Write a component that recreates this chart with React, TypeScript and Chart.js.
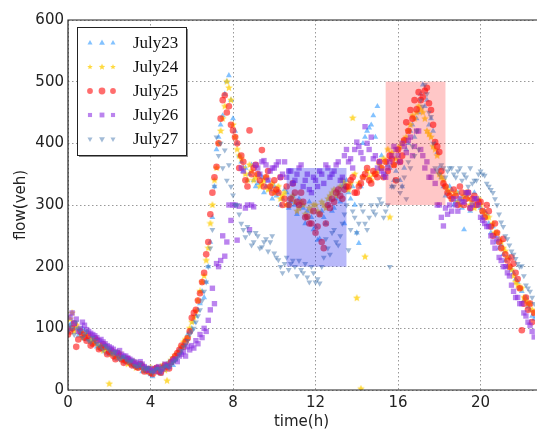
import { useEffect, useRef } from "react";
import { Chart, registerables } from "chart.js";
Chart.register(...registerables);

// ---------- data ----------
// readings on the even 12-minute marks
const hours = [
  0, 0.2, 0.4, 0.6, 0.8, 1, 1.2, 1.4, 1.6, 1.8,
  2, 2.2, 2.4, 2.6, 2.8, 3, 3.2, 3.4, 3.6, 3.8,
  4, 4.2, 4.4, 4.6, 4.8, 5, 5.2, 5.4, 5.6, 5.8,
  6, 6.2, 6.4, 6.6, 6.8, 7, 7.2, 7.4, 7.6, 7.8,
  8, 8.2, 8.4, 8.6, 8.8, 9, 9.2, 9.4, 9.6, 9.8,
  10, 10.2, 10.4, 10.6, 10.8, 11, 11.2, 11.4, 11.6, 11.8,
  12, 12.2, 12.4, 12.6, 12.8, 13, 13.2, 13.4, 13.6, 13.8,
  14, 14.2, 14.4, 14.6, 14.8, 15, 15.2, 15.4, 15.6, 15.8,
  16, 16.2, 16.4, 16.6, 16.8, 17, 17.2, 17.4, 17.6, 17.8,
  18, 18.2, 18.4, 18.6, 18.8, 19, 19.2, 19.4, 19.6, 19.8,
  20, 20.2, 20.4, 20.6, 20.8, 21, 21.2, 21.4, 21.6, 21.8,
  22, 22.2, 22.4, 22.6,
];
// readings in between
const hoursB = [
  0.1, 0.3, 0.5, 0.7, 0.9, 1.1, 1.3, 1.5, 1.7, 1.9,
  2.1, 2.3, 2.5, 2.7, 2.9, 3.1, 3.3, 3.5, 3.7, 3.9,
  4.1, 4.3, 4.5, 4.7, 4.9, 5.1, 5.3, 5.5, 5.7, 5.9,
  6.1, 6.3, 6.5, 6.7, 6.9, 7.1, 7.3, 7.5, 7.7, 7.9,
  8.1, 8.3, 8.5, 8.7, 8.9, 9.1, 9.3, 9.5, 9.7, 9.9,
  10.1, 10.3, 10.5, 10.7, 10.9, 11.1, 11.3, 11.5, 11.7, 11.9,
  12.1, 12.3, 12.5, 12.7, 12.9, 13.1, 13.3, 13.5, 13.7, 13.9,
  14.1, 14.3, 14.5, 14.7, 14.9, 15.1, 15.3, 15.5, 15.7, 15.9,
  16.1, 16.3, 16.5, 16.7, 16.9, 17.1, 17.3, 17.5, 17.7, 17.9,
  18.1, 18.3, 18.5, 18.7, 18.9, 19.1, 19.3, 19.5, 19.7, 19.9,
  20.1, 20.3, 20.5, 20.7, 20.9, 21.1, 21.3, 21.5, 21.7, 21.9,
  22.1, 22.3, 22.5,
];

const july23 = [
  95, 110, 100, 92, 95, 84, 80, 70, 76, 62,
  58, 60, 50, 54, 44, 48, 38, 42, 30, 36,
  25, 30, 28, 38, 42, 44, 50, 66, 72, 90,
  100, 120, 140, 150, 200, 280, 390, 430, 480, 510,
  440, 400, 370, 360, 350, 340, 335, 345, 330, 325,
  330, 320, 310, 320, 305, 300, 310, 295, 290, 280,
  265, 245, 280, 300, 290, 310, 305, 270, 320, 330,
  255, 330, 410, 425, 445, 460, 380, 350, 360, 340,
  370, 330, 390, 420, 410, 450, 495, 470, 440, 400,
  360, 330, 320, 325, 305, 310, 260, 320, 300, 310,
  295, 290, 270, 265, 240, 235, 210, 215, 190, 175,
  160, 150, 130, 115,
];
const july23b = [
  105, 98, 88, 100, 82, 86, 75, 68, 72, 60,
  64, 52, 56, 46, 50, 40, 44, 35, 38, 28,
  22, 34, 26, 32, 46, 40, 58, 60, 80, 95,
  110, 130, 160, 175, 240, 330, 410, 445, 500, 470,
  420, 380, 355, 340, 365, 330, 350, 320, 340, 310,
  315, 300, 325, 295, 315, 285, 300, 270, 305, 260,
  243, 290, 270, 310, 295, 320, 330, 340, 310, 300,
  238, 400, 420, 430, 410, 370, 345, 365, 330, 355,
  340, 360, 400, 430, 440, 480, 460, 430, 420, 385,
  345, 315, 330, 300, 320, 295, 315, 290, 320, 300,
  280, 285, 255, 250, 230, 220, 200, 195, 180, 165,
  145, 135, 120,
];

const july24 = [
  100, 125, 105, 95, 88, 90, 78, 82, 72, 66,
  10, 62, 58, 50, 52, 44, 46, 38, 40, 34,
  36, 30, 35, 40, 15, 48, 56, 60, 78, 85,
  110, 128, 160, 185, 230, 300, 360, 420, 460, 490,
  430, 390, 375, 350, 365, 340, 350, 335, 345, 330,
  320, 330, 315, 300, 310, 305, 295, 300, 280, 290,
  300, 285, 300, 310, 320, 315, 330, 335, 325, 441,
  149, 2, 216, 345, 350, 355, 360, 370, 280, 365,
  390, 400, 410, 430, 440, 460, 450, 420, 410, 390,
  350, 340, 325, 310, 320, 300, 315, 310, 305, 300,
  300, 285, 280, 270, 255, 240, 225, 200, 185, 170,
  165, 145, 140, 125,
];
const july24b = [
  115, 95, 100, 85, 92, 80, 76, 70, 64, 68,
  58, 54, 60, 48, 42, 46, 36, 40, 32, 30,
  28, 36, 38, 32, 44, 52, 58, 70, 82, 100,
  118, 145, 175, 210, 270, 340, 400, 440, 500, 470,
  410, 380, 360, 340, 355, 345, 330, 340, 325, 335,
  325, 310, 320, 300, 315, 290, 305, 285, 295, 300,
  290, 305, 295, 315, 325, 320, 340, 330, 335, 350,
  335, 345, 355, 340, 350, 365, 375, 390, 385, 375,
  395, 405, 420, 445, 450, 455, 440, 415, 395, 380,
  345, 330, 320, 315, 305, 310, 320, 300, 295, 310,
  290, 280, 265, 255, 245, 230, 215, 195, 175, 165,
  150, 140, 130,
];

const july25 = [
  90, 100, 70, 95, 85, 88, 75, 80, 68, 70,
  62, 55, 60, 50, 48, 45, 42, 36, 38, 32,
  28, 34, 30, 36, 38, 45, 55, 65, 70, 84,
  117, 130, 157, 190, 240, 320, 362, 440, 478, 460,
  421, 400, 380, 340, 421, 360, 350, 389, 345, 330,
  340, 320, 300, 330, 310, 320, 300, 305, 281, 270,
  255, 285, 230, 300, 310, 320, 315, 325, 330, 345,
  320, 335, 350, 340, 355, 345, 360, 370, 380, 365,
  390, 380, 434, 454, 470, 483, 475, 490, 454, 402,
  386, 335, 320, 310, 315, 330, 300, 320, 310, 300,
  305, 280, 290, 250, 255, 230, 220, 200, 205, 180,
  97, 150, 140, 125,
];
const july25b = [
  95, 108, 82, 90, 80, 72, 84, 66, 74, 58,
  64, 50, 56, 44, 50, 40, 38, 42, 30, 34,
  26, 36, 28, 40, 35, 50, 60, 72, 78, 95,
  125, 145, 175, 220, 285, 345, 400, 470, 450, 430,
  410, 360, 370, 330, 350, 365, 340, 330, 355, 320,
  325, 345, 310, 300, 335, 305, 320, 280, 270, 290,
  265, 240, 270, 295, 305, 325, 310, 330, 340, 320,
  330, 345, 360, 335, 350, 370, 345, 355, 375, 340,
  370, 405, 420, 440, 455, 470, 485, 465, 430, 395,
  355, 330, 315, 325, 300, 320, 310, 295, 315, 305,
  290, 300, 265, 270, 240, 245, 210, 215, 190, 165,
  140, 130, 110,
];

const july26 = [
  100, 125, 115, 100, 105, 95, 90, 85, 82, 75,
  70, 66, 60, 58, 55, 50, 46, 40, 42, 35,
  35, 30, 38, 34, 40, 45, 50, 55, 62, 70,
  72, 80, 90, 100, 113, 165, 205, 210, 217, 300,
  300, 243, 360, 295, 260, 297, 360, 370, 365, 355,
  360, 370, 350, 345, 355, 340, 360, 330, 350, 320,
  340, 355, 335, 360, 350, 365, 340, 380, 370, 360,
  402, 385, 427, 390, 375, 360, 355, 345, 370, 395,
  380, 400, 385, 410, 395, 420, 380, 370, 345, 335,
  300, 266, 285, 290, 300, 310, 305, 320, 300, 310,
  280, 270, 265, 240, 245, 210, 200, 185, 160, 150,
  140, 120, 105, 86,
];
const july26b = [
  118, 108, 95, 110, 98, 92, 88, 80, 78, 72,
  68, 62, 64, 55, 52, 48, 44, 46, 38, 32,
  32, 36, 30, 42, 38, 48, 46, 58, 55, 65,
  68, 75, 85, 95, 130, 140, 200, 250, 240, 275,
  300, 298, 355, 300, 300, 365, 350, 372, 340, 360,
  365, 345, 370, 355, 335, 350, 365, 340, 325, 345,
  330, 350, 365, 345, 355, 370, 345, 390, 375, 390,
  395, 375, 400, 410, 380, 370, 350, 360, 380, 390,
  370, 395, 405, 380, 420, 390, 360, 345, 355, 300,
  280, 295, 300, 310, 290, 305, 320, 295, 310, 300,
  275, 265, 250, 230, 215, 200, 190, 170, 150, 140,
  125, 110, 95,
];

const july27 = [
  95, 100, 110, 95, 90, 80, 85, 75, 70, 72,
  65, 58, 55, 52, 50, 45, 40, 38, 36, 34,
  30, 32, 34, 36, 40, 42, 48, 58, 70, 80,
  95, 110, 130, 160, 200, 260, 410, 400, 389, 365,
  316, 300, 270, 248, 255, 240, 250, 232, 245, 240,
  222, 211, 190, 215, 205, 200, 210, 190, 183, 200,
  175, 173, 215, 230, 255, 240, 250, 285, 227, 290,
  255, 300, 270, 280, 290, 300, 303, 290, 200, 330,
  340, 330, 310, 360, 380, 390, 460, 480, 443, 360,
  350, 360, 355, 360, 345, 360, 350, 330, 335, 340,
  355, 348, 330, 320, 300, 272, 250, 235, 220, 205,
  201, 170, 160, 140,
];
const july27b = [
  105, 90, 100, 85, 95, 78, 80, 72, 65, 68,
  60, 62, 50, 54, 46, 48, 38, 42, 32, 36,
  28, 35, 30, 38, 36, 45, 52, 64, 74, 90,
  100, 120, 145, 175, 230, 330, 380, 360, 340, 330,
  300, 285, 260, 265, 235, 255, 230, 240, 225, 250,
  215, 200, 205, 195, 210, 185, 195, 205, 175, 190,
  180, 200, 245, 220, 260, 235, 270, 300, 260, 280,
  270, 290, 260, 300, 285, 310, 280, 300, 330, 340,
  320, 345, 370, 395, 420, 470, 495, 450, 400, 355,
  365, 345, 360, 350, 355, 340, 345, 360, 340, 350,
  350, 335, 325, 310, 285, 265, 245, 225, 213, 200,
  185, 165, 150,
];

const seriesNames = ["July23", "July24", "July25", "July26", "July27"];
const seriesValues = [july23, july24, july25, july26, july27];
const seriesValuesB = [july23b, july24b, july25b, july26b, july27b];

const xTicks = [0, 4, 8, 12, 16, 20];
const yTicks = [0, 100, 200, 300, 400, 500, 600];

// highlighted regions
const regionStart = [10.6, 15.4];
const regionEnd = [13.5, 18.3];
const regionLow = [200, 300];
const regionHigh = [360, 500];

// ---------- styles ----------
const colors = [
  "rgba(30,144,255,0.55)",
  "rgba(255,205,0,0.75)",
  "rgba(255,20,20,0.62)",
  "rgba(138,43,226,0.58)",
  "rgba(70,120,175,0.5)",
];
const styles = ["triangle", "star", "circle", "rect", "triangleDown"];
const radii = [3.4, 3.6, 3.3, 3.8, 3.4];
const regionColors = ["rgba(20,20,235,0.3)", "rgba(255,0,0,0.22)"];
const tickFont = { family: '"DejaVu Sans", sans-serif', size: 15 };

function drawStar(ctx: CanvasRenderingContext2D, cx: number, cy: number, R: number, color: string) {
  const r = R * 0.45;
  ctx.beginPath();
  for (let k = 0; k < 10; k++) {
    const rad = k % 2 === 0 ? R : r;
    const a = -Math.PI / 2 + (k * Math.PI) / 5;
    const px = cx + rad * Math.cos(a);
    const py = cy + rad * Math.sin(a);
    if (k === 0) ctx.moveTo(px, py);
    else ctx.lineTo(px, py);
  }
  ctx.closePath();
  ctx.fillStyle = color;
  ctx.fill();
}

function makeStar(color: string, size: number) {
  const c = document.createElement("canvas");
  c.width = size;
  c.height = size;
  const ctx = c.getContext("2d")!;
  drawStar(ctx, size / 2, size / 2, size / 2, color);
  return c;
}

function drawMarker(ctx: CanvasRenderingContext2D, style: string, x: number, y: number, r: number, color: string) {
  ctx.save();
  ctx.fillStyle = color;
  if (style === "star") {
    drawStar(ctx, x, y, r, color);
  } else if (style === "circle") {
    ctx.beginPath();
    ctx.arc(x, y, r, 0, Math.PI * 2);
    ctx.fill();
  } else if (style === "rect") {
    const s = r * Math.SQRT1_2;
    ctx.fillRect(x - s, y - s, 2 * s, 2 * s);
  } else {
    const dir = style === "triangle" ? 1 : -1;
    ctx.beginPath();
    for (let k = 0; k < 3; k++) {
      const a = (k * 2 * Math.PI) / 3;
      const px = x + Math.sin(a) * r;
      const py = y - dir * Math.cos(a) * r;
      if (k === 0) ctx.moveTo(px, py);
      else ctx.lineTo(px, py);
    }
    ctx.closePath();
    ctx.fill();
  }
  ctx.restore();
}

const regionsPlugin = {
  id: "regions",
  afterDatasetsDraw(chart: any) {
    const { ctx, scales } = chart;
    const xs = scales.x;
    const ys = scales.y;
    ctx.save();
    for (let i = 0; i < regionStart.length; i++) {
      const x1 = xs.getPixelForValue(regionStart[i]);
      const x2 = xs.getPixelForValue(regionEnd[i]);
      const y1 = ys.getPixelForValue(regionHigh[i]);
      const y2 = ys.getPixelForValue(regionLow[i]);
      ctx.fillStyle = regionColors[i];
      ctx.fillRect(x1, y1, x2 - x1, y2 - y1);
    }
    ctx.restore();
  },
};

const framePlugin = {
  id: "frame",
  afterDatasetsDraw(chart: any) {
    const { ctx, chartArea } = chart;
    const { left, right, top, bottom } = chartArea;
    ctx.save();
    ctx.strokeStyle = "#222";
    ctx.lineWidth = 1.2;
    ctx.beginPath();
    ctx.moveTo(right + 2, top);
    ctx.lineTo(left, top);
    ctx.lineTo(left, bottom);
    ctx.lineTo(right + 2, bottom);
    ctx.stroke();
    ctx.restore();
  },
};

const legendPlugin = {
  id: "customLegend",
  afterDraw(chart: any) {
    const { ctx } = chart;
    const bx = 77, by = 27, bw = 109, bh = 128;
    ctx.save();
    ctx.fillStyle = "rgba(0,0,0,0.45)";
    ctx.fillRect(bx + 2, by + 2, bw, bh);
    ctx.fillStyle = "#fff";
    ctx.fillRect(bx, by, bw, bh);
    ctx.strokeStyle = "#222";
    ctx.lineWidth = 1;
    ctx.strokeRect(bx + 0.5, by + 0.5, bw, bh);
    const rowY = [43, 67, 91, 115, 139];
    const markX = [90, 102, 113];
    ctx.font = '17px "Liberation Serif", serif';
    ctx.textBaseline = "middle";
    ctx.textAlign = "left";
    for (let i = 0; i < seriesNames.length; i++) {
      for (let m = 0; m < markX.length; m++) {
        drawMarker(ctx, styles[i], markX[m], rowY[i], m === 1 ? 3.4 : 2.9, colors[i]);
      }
      ctx.fillStyle = "#111";
      ctx.fillText(seriesNames[i], 133, rowY[i] + 1);
    }
    ctx.restore();
  },
};

export default function App() {
  const ref = useRef<HTMLCanvasElement | null>(null);

  useEffect(() => {
    const canvas = ref.current;
    if (!canvas) return;
    const datasets = seriesNames.map((name, i) => {
      let pointStyle: any = styles[i];
      let rotation = 0;
      if (styles[i] === "star") pointStyle = makeStar(colors[i], 8);
      if (styles[i] === "triangleDown") {
        pointStyle = "triangle";
        rotation = 180;
      }
      const pts = [
        ...hours.map((h, k) => ({ x: h, y: seriesValues[i][k] })),
        ...hoursB.map((h, k) => ({ x: h, y: seriesValuesB[i][k] })),
      ];
      return {
        label: name,
        data: pts,
        pointStyle,
        rotation,
        pointRotation: rotation,
        pointRadius: radii[i],
        pointBorderWidth: 0,
        backgroundColor: colors[i],
        borderColor: colors[i],
        order: seriesNames.length - i,
      };
    });

    const chart = new Chart(canvas, {
      type: "scatter",
      data: { datasets },
      options: {
        animation: false,
        responsive: false,
        maintainAspectRatio: false,
        layout: { padding: { top: 20, right: 0, left: 0, bottom: 0 } },
        plugins: { legend: { display: false }, tooltip: { enabled: false } },
        scales: {
          x: {
            type: "linear",
            min: 0,
            max: 22.64,
            afterFit: (s: any) => {
              s.height = 40;
            },
            afterBuildTicks: (s: any) => {
              s.ticks = xTicks.map((v) => ({ value: v }));
            },
            grid: { color: "#999", lineWidth: 1, drawTicks: false },
            border: { display: false, dash: [1.5, 2.5] },
            ticks: { font: tickFont, color: "#222", padding: 4, autoSkip: false, maxRotation: 0 },
            title: {
              display: true,
              text: "time(h)",
              font: { ...tickFont, lineHeight: 1 },
              color: "#222",
              padding: { top: 0, bottom: 0 },
            },
          },
          y: {
            type: "linear",
            min: 0,
            max: 600,
            afterFit: (s: any) => {
              s.width = 68;
            },
            afterBuildTicks: (s: any) => {
              s.ticks = yTicks.map((v) => ({ value: v }));
            },
            grid: { color: "#999", lineWidth: 1, drawTicks: false },
            border: { display: false, dash: [1.5, 2.5] },
            ticks: { font: tickFont, color: "#222", padding: 4 },
            title: {
              display: true,
              text: "flow(veh)",
              font: { ...tickFont, lineHeight: 1 },
              color: "#222",
              padding: { top: 13.5, bottom: 0 },
            },
          },
        },
      } as any,
      plugins: [regionsPlugin, framePlugin, legendPlugin],
    });
    return () => chart.destroy();
  }, []);

  return (
    <div style={{ position: "fixed", left: 0, top: 0, width: 539, height: 430, background: "#fff" }}>
      <canvas ref={ref} width={539} height={430} style={{ display: "block", width: 539, height: 430 }} />
    </div>
  );
}
